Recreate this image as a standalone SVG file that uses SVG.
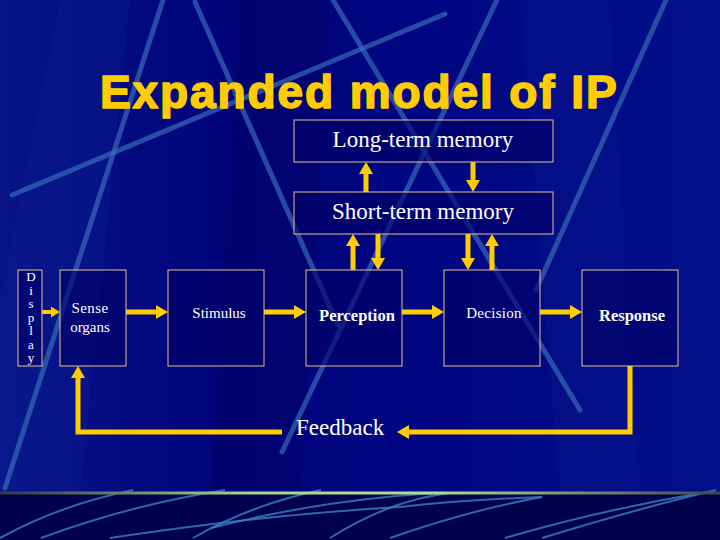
<svg xmlns="http://www.w3.org/2000/svg" width="720" height="540" viewBox="0 0 720 540">
<defs>
<linearGradient id="bg" x1="0" y1="0" x2="1" y2="0">
<stop offset="0" stop-color="#081488"/>
<stop offset="0.3" stop-color="#00047a"/>
<stop offset="0.6" stop-color="#000682"/>
<stop offset="1" stop-color="#02108a"/>
</linearGradient>
<linearGradient id="rule" x1="0" y1="0" x2="1" y2="0">
<stop offset="0" stop-color="#303848"/>
<stop offset="0.35" stop-color="#a8d890"/>
<stop offset="0.6" stop-color="#b0dc98"/>
<stop offset="1" stop-color="#404850"/>
</linearGradient>
<marker id="ah" markerUnits="userSpaceOnUse" markerWidth="12" markerHeight="14" refX="0" refY="7" orient="auto">
<path d="M0,0 L12,7 L0,14 z" fill="#ffcc00"/>
</marker>
<marker id="ahs" markerUnits="userSpaceOnUse" markerWidth="9" markerHeight="11" refX="0" refY="5.5" orient="auto">
<path d="M0,0 L9,5.5 L0,11 z" fill="#ffcc00"/>
</marker>
<style>
.box{fill:#000066;fill-opacity:0.6;stroke:#e8c090;stroke-width:1}
.t{font-family:"Liberation Serif","Times New Roman",serif;fill:#ffffff}
.c{stroke:#ffcc00;stroke-width:5;fill:none;marker-end:url(#ah)}
.bl{stroke:#3a72bc;stroke-opacity:0.65;stroke-width:5;fill:none;stroke-linecap:round}
.bb{stroke:#3a80c8;stroke-opacity:0.8;stroke-width:2;fill:none}
</style>
</defs>
<g id="background">
<rect width="720" height="540" fill="url(#bg)"/>
<polygon points="60,0 130,0 80,493 0,493 0,300" fill="#0d2094" fill-opacity="0.3"/>
<polygon points="240,0 330,0 300,493 210,493" fill="#000058" fill-opacity="0.3"/>
<polygon points="520,0 610,0 640,493 560,493" fill="#0a1a90" fill-opacity="0.25"/>
<line class="bl" x1="12" y1="195" x2="445" y2="14" stroke-width="6"/>
<line class="bl" x1="163" y1="0" x2="5" y2="488"/>
<line class="bl" x1="195" y1="2" x2="338" y2="325" stroke-width="4"/>
<line class="bl" x1="497" y1="0" x2="282" y2="452"/>
<line class="bl" x1="333" y1="0" x2="580" y2="410" stroke-width="4"/>
<line class="bl" x1="666" y1="0" x2="536" y2="290" stroke-width="4"/>
<rect x="0" y="493" width="720" height="47" fill="#00004c"/>
<path class="bb" d="M0,538 Q60,505 133,490"/>
<path class="bb" d="M41,538 Q130,505 225,490"/>
<path class="bb" d="M110,538 Q260,515 400,507 Q460,500 542,497"/>
<path class="bb" d="M193,538 Q250,505 321,490"/>
<path class="bb" d="M211,528 Q320,500 436,493"/>
<path class="bb" d="M330,538 Q390,500 450,493"/>
<path class="bb" d="M390,538 Q470,510 542,497"/>
<path class="bb" d="M505,538 Q600,510 707,492"/>
<path class="bb" d="M542,538 Q640,508 716,490"/>
<rect x="0" y="491.5" width="720" height="3" fill="url(#rule)"/>
</g>
<text id="title" x="100" y="108" font-family="'Liberation Sans',Arial,sans-serif" font-weight="bold" font-size="46" letter-spacing="1.9" fill="#ffcc00" stroke="#ffcc00" stroke-width="1.6" stroke-linejoin="round">Expanded model of IP</text>
<g id="connectors">
<line x1="42" y1="312" x2="51" y2="312" stroke="#ffcc00" stroke-width="4" marker-end="url(#ahs)"/>
<line class="c" x1="126" y1="312" x2="156" y2="312"/>
<line class="c" x1="264" y1="312" x2="294" y2="312"/>
<line class="c" x1="402" y1="312" x2="432" y2="312"/>
<line class="c" x1="540" y1="312" x2="570" y2="312"/>
<line class="c" x1="366" y1="192" x2="366" y2="174"/>
<line class="c" x1="473" y1="162" x2="473" y2="180"/>
<line class="c" x1="353" y1="270" x2="353" y2="246"/>
<line class="c" x1="378" y1="234" x2="378" y2="258"/>
<line class="c" x1="468" y1="234" x2="468" y2="258"/>
<line class="c" x1="492" y1="270" x2="492" y2="246"/>
<path class="c" d="M630,366 V432 H409"/>
<path class="c" d="M282,432 H78 V378"/>
</g>
<g id="display">
<rect class="box" x="18" y="270" width="24" height="96"/>
<g class="t" font-size="13" text-anchor="middle">
<text x="31" y="281">D</text>
<text x="31" y="294.5">i</text>
<text x="31" y="308">s</text>
<text x="31" y="321.5">p</text>
<text x="31" y="335">l</text>
<text x="31" y="348.5">a</text>
<text x="31" y="362">y</text>
</g>
</g>
<g id="sense-organs">
<rect class="box" x="60" y="270" width="66" height="96"/>
<text class="t" x="90" y="313" font-size="15" text-anchor="middle" letter-spacing="0.4">Sense</text>
<text class="t" x="90" y="332" font-size="15" text-anchor="middle">organs</text>
</g>
<g id="stimulus">
<rect class="box" x="168" y="270" width="96" height="96"/>
<text class="t" x="219" y="318" font-size="15" text-anchor="middle">Stimulus</text>
</g>
<g id="perception">
<rect class="box" x="306" y="270" width="96" height="96"/>
<text class="t" x="357" y="321" font-size="16.5" font-weight="bold" text-anchor="middle">Perception</text>
</g>
<g id="decision">
<rect class="box" x="444" y="270" width="96" height="96"/>
<text class="t" x="494" y="318" font-size="15" letter-spacing="0.3" text-anchor="middle">Decision</text>
</g>
<g id="response">
<rect class="box" x="582" y="270" width="96" height="96"/>
<text class="t" x="632" y="321" font-size="16.5" font-weight="bold" text-anchor="middle">Response</text>
</g>
<g id="long-term-memory">
<rect class="box" x="294" y="120" width="259" height="42"/>
<text class="t" x="423" y="147" font-size="23" text-anchor="middle">Long-term memory</text>
</g>
<g id="short-term-memory">
<rect class="box" x="294" y="192" width="259" height="42"/>
<text class="t" x="423" y="219" font-size="23" text-anchor="middle">Short-term memory</text>
</g>
<g id="feedback">
<text class="t" x="296" y="435" font-size="23">Feedback</text>
</g>
</svg>
